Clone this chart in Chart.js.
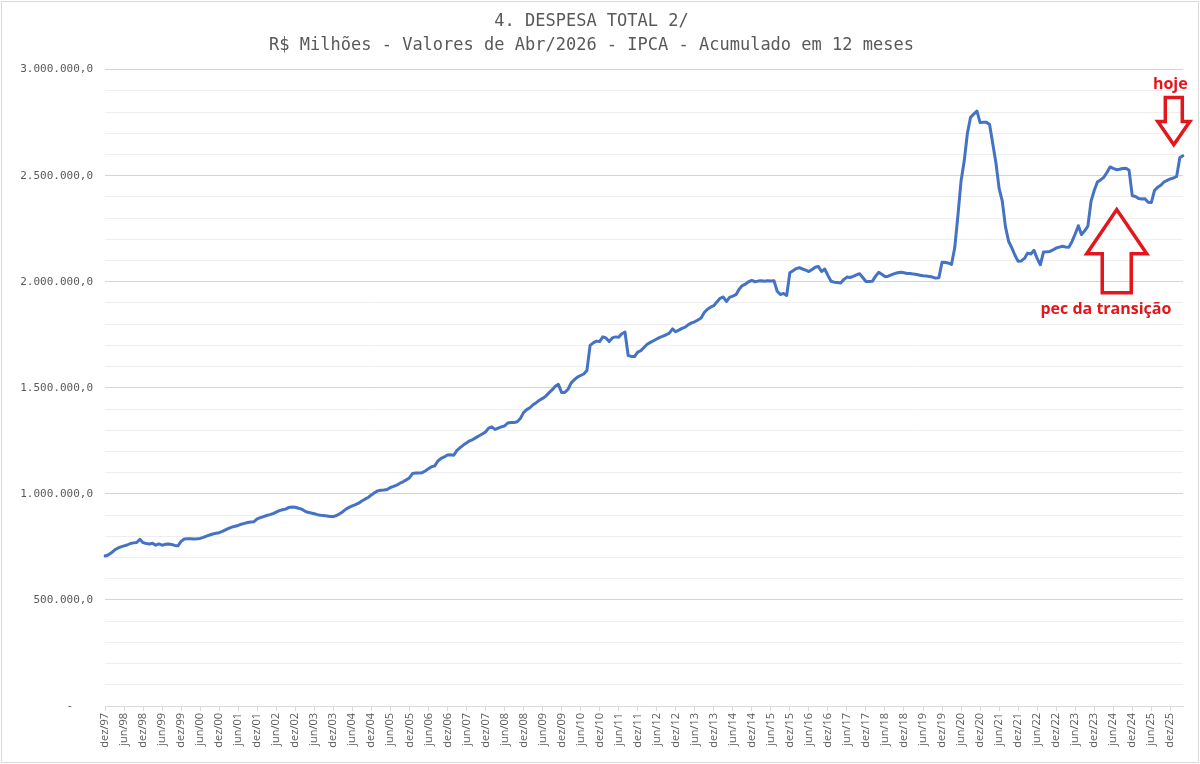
<!DOCTYPE html>
<html lang="pt-BR">
<head>
<meta charset="utf-8">
<title>4. DESPESA TOTAL 2/</title>
<script src="https://cdn.jsdelivr.net/npm/chart.js@4.4.1/dist/chart.umd.min.js"></script>
<style>
  html, body { margin: 0; padding: 0; background: #ffffff; }
  #wrap { position: relative; width: 1200px; height: 764px; }
  canvas { display: block; }
</style>
</head>
<body>
<div id="wrap"><canvas id="chart" width="1200" height="764"></canvas></div>
<script>
// ---------- DATA ----------
const titleLines = [
  '4. DESPESA TOTAL 2/',
  'R$ Milhões - Valores de Abr/2026 - IPCA - Acumulado em 12 meses'
];
const monthNames = ['jan','fev','mar','abr','mai','jun','jul','ago','set','out','nov','dez'];
const firstYear = 1997;      // first point: dez/97
const firstMonthIdx = 11;    // dez
const shownMonthNames = ['jun', 'dez'];

// R$ milhões, monthly, dez/97 .. abr/26 (12-month accumulated)
const despesaTotal = [
  // dez/97
  707000,
  // 1998
  712000, 722000, 735000, 744000, 750000, 755000, 759000, 766000, 769000, 771000, 786000, 770000,
  // 1999
  766000, 764000, 767000, 758000, 764000, 758000, 762000, 764000, 761000, 757000, 755000, 776000,
  // 2000
  787000, 788000, 788000, 787000, 788000, 790000, 795000, 801000, 806000, 811000, 814000, 817000,
  // 2001
  823000, 830000, 837000, 843000, 847000, 851000, 857000, 861000, 865000, 867000, 869000, 882000,
  // 2002
  888000, 893000, 898000, 902000, 907000, 914000, 921000, 925000, 928000, 936000, 938000, 937000,
  // 2003
  932000, 928000, 919000, 913000, 910000, 906000, 902000, 899000, 898000, 896000, 893000, 893000,
  // 2004
  898000, 906000, 916000, 928000, 936000, 943000, 949000, 956000, 966000, 975000, 983000, 995000,
  // 2005
  1005000, 1014000, 1017000, 1018000, 1021000, 1030000, 1035000, 1041000, 1050000, 1057000, 1066000, 1075000,
  // 2006
  1096000, 1098000, 1098000, 1100000, 1108000, 1118000, 1128000, 1132000, 1155000, 1167000, 1174000, 1183000,
  // 2007
  1184000, 1182000, 1205000, 1218000, 1230000, 1240000, 1250000, 1256000, 1265000, 1274000, 1282000, 1292000,
  // 2008
  1310000, 1316000, 1304000, 1310000, 1316000, 1320000, 1334000, 1336000, 1336000, 1340000, 1355000, 1383000,
  // 2009
  1397000, 1406000, 1420000, 1430000, 1441000, 1450000, 1460000, 1476000, 1490000, 1507000, 1516000, 1478000,
  // 2010
  1478000, 1492000, 1522000, 1538000, 1550000, 1558000, 1565000, 1582000, 1700000, 1712000, 1720000, 1718000,
  // 2011
  1740000, 1735000, 1718000, 1735000, 1740000, 1738000, 1755000, 1763000, 1652000, 1648000, 1647000, 1668000,
  // 2012
  1675000, 1690000, 1705000, 1714000, 1722000, 1730000, 1738000, 1744000, 1750000, 1758000, 1778000, 1764000,
  // 2013
  1772000, 1780000, 1786000, 1798000, 1806000, 1811000, 1820000, 1829000, 1855000, 1870000, 1880000, 1887000,
  // 2014
  1905000, 1922000, 1928000, 1907000, 1926000, 1932000, 1939000, 1965000, 1982000, 1989000, 2000000, 2006000,
  // 2015
  2000000, 2003000, 2005000, 2002000, 2005000, 2004000, 2005000, 1955000, 1940000, 1945000, 1935000, 2042000,
  // 2016
  2052000, 2062000, 2066000, 2060000, 2055000, 2048000, 2058000, 2068000, 2072000, 2048000, 2060000, 2030000,
  // 2017
  2002000, 1998000, 1996000, 1994000, 2010000, 2022000, 2020000, 2025000, 2032000, 2038000, 2020000, 2001000,
  // 2018
  2001000, 2002000, 2025000, 2044000, 2035000, 2024000, 2026000, 2032000, 2038000, 2042000, 2045000, 2042000,
  // 2019
  2039000, 2039000, 2036000, 2034000, 2031000, 2028000, 2027000, 2025000, 2022000, 2017000, 2019000, 2092000,
  // 2020
  2091000, 2088000, 2082000, 2160000, 2310000, 2475000, 2570000, 2700000, 2775000, 2790000, 2805000, 2750000,
  // 2021
  2752000, 2752000, 2741000, 2650000, 2560000, 2440000, 2380000, 2260000, 2190000, 2160000, 2125000, 2096000,
  // 2022
  2098000, 2110000, 2135000, 2131000, 2148000, 2110000, 2080000, 2140000, 2141000, 2143000, 2150000, 2159000,
  // 2023
  2163000, 2167000, 2164000, 2162000, 2190000, 2225000, 2264000, 2222000, 2240000, 2262000, 2380000, 2430000,
  // 2024
  2470000, 2480000, 2492000, 2515000, 2541000, 2534000, 2528000, 2530000, 2534000, 2535000, 2525000, 2405000,
  // 2025
  2402000, 2392000, 2390000, 2391000, 2375000, 2373000, 2430000, 2445000, 2455000, 2470000, 2478000, 2485000,
  // 2026 (jan..abr)
  2489000, 2497000, 2585000, 2594000
];

// month labels "dez/97", "jan/98", ...
const monthLabels = despesaTotal.map((_, i) => {
  const k = firstMonthIdx + i;
  const yr = (firstYear + Math.floor(k / 12)) % 100;
  return monthNames[k % 12] + '/' + String(yr).padStart(2, '0');
});

// y axis
const yMin = 0, yMax = 3000000, yMinorStep = 100000, yMajorStep = 500000;

// annotations (in data coordinates: month index, value)
const noteHoje = { text: 'hoje', textAt: [336, 2929000],
  arrow: { at: 337.1, base: 2868000, headStart: 2755000, tip: 2646000, shaftHalf: 8.5, headHalf: 16 } };
const notePec = { text: 'pec da transição', textAt: [315.7, 1868000],
  arrow: { at: 319.1, base: 1948000, headStart: 2132000, tip: 2340000, shaftHalf: 14.5, headHalf: 30 } };

// ---------- helpers ----------
function fmtBR(v) {
  if (v === 0) return '-   ';
  const s = Math.round(v).toString().replace(/\B(?=(\d{3})+(?!\d))/g, '.');
  return s + ',0';
}
const isShown = (i) => shownMonthNames.includes(monthLabels[i].slice(0, 3));

const RED = '#e3161d';
const annotationPlugin = {
  id: 'notes',
  afterDatasetsDraw(chart) {
    const { ctx, scales: { x, y } } = chart;
    const drawArrow = (a) => {
      const cx = x.getPixelForValue(a.at);
      const yb = y.getPixelForValue(a.base);
      const yh = y.getPixelForValue(a.headStart);
      const yt = y.getPixelForValue(a.tip);
      ctx.beginPath();
      ctx.moveTo(cx - a.shaftHalf, yb);
      ctx.lineTo(cx + a.shaftHalf, yb);
      ctx.lineTo(cx + a.shaftHalf, yh);
      ctx.lineTo(cx + a.headHalf, yh);
      ctx.lineTo(cx, yt);
      ctx.lineTo(cx - a.headHalf, yh);
      ctx.lineTo(cx - a.shaftHalf, yh);
      ctx.closePath();
      ctx.lineWidth = 3.5;
      ctx.strokeStyle = RED;
      ctx.lineJoin = 'miter';
      ctx.stroke();
    };
    const drawText = (n) => {
      ctx.fillStyle = RED;
      ctx.font = 'bold 16px "Open Sans", "Liberation Sans", sans-serif';
      ctx.textAlign = 'center';
      ctx.textBaseline = 'middle';
      ctx.fillText(n.text, x.getPixelForValue(n.textAt[0]), y.getPixelForValue(n.textAt[1]));
    };
    ctx.save();
    drawArrow(noteHoje.arrow);
    drawArrow(notePec.arrow);
    drawText(noteHoje);
    drawText(notePec);
    ctx.restore();
  }
};

const framePlugin = {
  id: 'frame',
  beforeDraw(chart) {
    const { ctx, width, height } = chart;
    ctx.save();
    ctx.fillStyle = '#ffffff';
    ctx.fillRect(0, 0, width, height);
    ctx.strokeStyle = '#d9d9d9';
    ctx.lineWidth = 1;
    ctx.strokeRect(1.5, 1.5, width - 3, height - 3);
    ctx.restore();
  }
};

new Chart(document.getElementById('chart'), {
  type: 'line',
  data: {
    labels: monthLabels,
    datasets: [{
      label: 'Despesa total',
      data: despesaTotal,
      borderColor: '#4472c4',
      backgroundColor: '#4472c4',
      borderWidth: 3,
      pointRadius: 0,
      tension: 0,
      fill: false,
      borderJoinStyle: 'round',
      borderCapStyle: 'round'
    }]
  },
  options: {
    responsive: false,
    animation: false,
    layout: { padding: { left: 0, right: 17, top: 0, bottom: 8 } },
    plugins: {
      legend: { display: false },
      tooltip: { enabled: false },
      title: {
        display: true,
        text: titleLines,
        color: '#595959',
        font: { family: '"DejaVu Sans Mono", monospace', size: 17, weight: 'normal', lineHeight: 1.4 },
        padding: { top: 10, bottom: 12 }
      }
    },
    scales: {
      x: {
        type: 'category',
        offset: false,
        afterFit(s) { s.height = 50; },
        grid: {
          display: true,
          drawOnChartArea: false,
          drawTicks: true,
          tickLength: 5,
          color: (c) => (isShown(c.index) ? '#d9d9d9' : 'rgba(0,0,0,0)')
        },
        border: { display: true, color: '#d9d9d9', width: 1 },
        ticks: {
          autoSkip: false,
          maxRotation: 90,
          minRotation: 90,
          padding: 2,
          color: '#595959',
          font: { family: '"Open Sans", sans-serif', size: 11 },
          callback: (v, i) => (isShown(i) ? monthLabels[i] : '')
        }
      },
      y: {
        min: yMin,
        max: yMax,
        afterFit(s) { s.width = 105; },
        grid: {
          drawTicks: false,
          color: (c) => (c.tick && c.tick.value % yMajorStep === 0 ? '#d4d4d4' : '#eeeeee'),
          lineWidth: 1
        },
        border: { display: false },
        ticks: {
          stepSize: yMinorStep,
          padding: 12,
          color: '#595959',
          font: { family: '"DejaVu Sans Mono", monospace', size: 11 },
          callback: (v) => (v % yMajorStep === 0 ? fmtBR(v) : '')
        }
      }
    }
  },
  plugins: [framePlugin, annotationPlugin]
});
</script>
</body>
</html>
